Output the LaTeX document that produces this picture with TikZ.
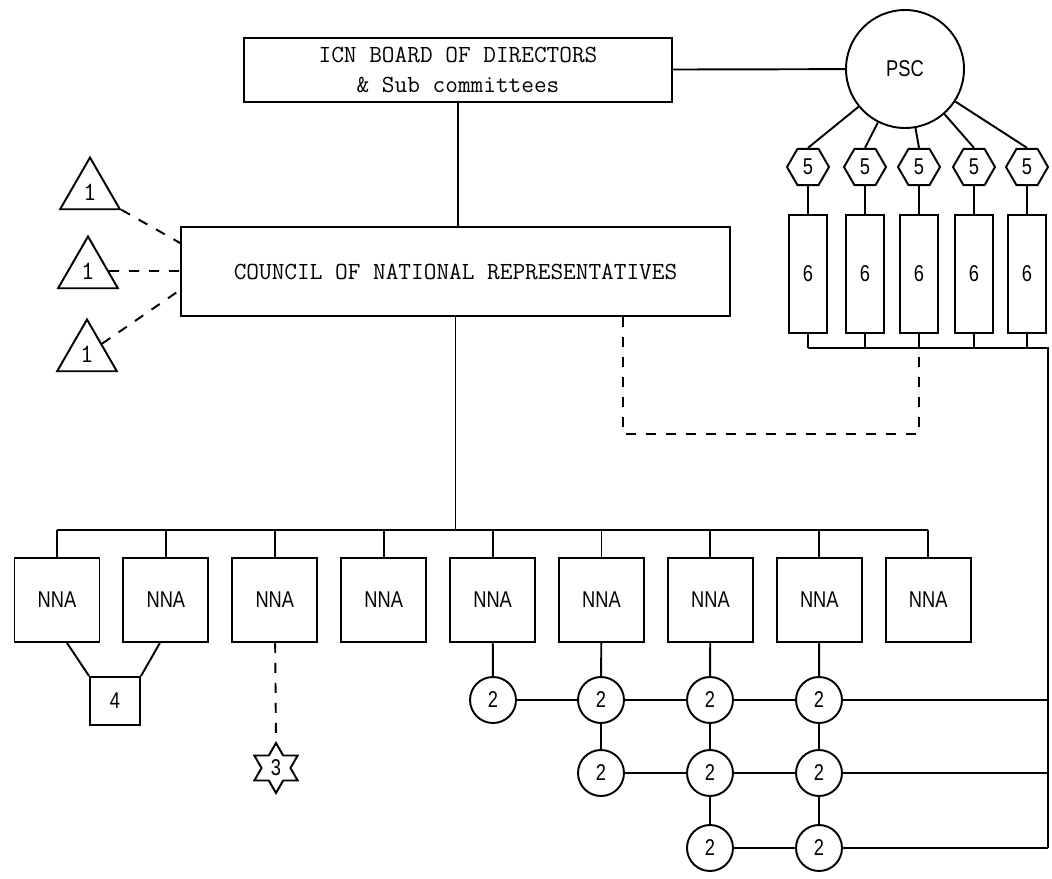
\documentclass[tikz,border=0pt]{standalone}
\usepackage{fontspec}
\setsansfont{Liberation Sans}[FakeStretch=0.8]
\usetikzlibrary{shapes.geometric}
\begin{document}
\begin{tikzpicture}[x=0.02cm,y=-0.02cm]

% définition des styles
\tikzstyle{trait}=[-,line width=1.1pt]
\tikzstyle{pointille}=[dash pattern=on 0.2cm off 0.2cm,line width=1.1pt]
\tikzstyle{boite}=[rectangle,draw,line width=1.1pt,inner sep=0pt,font=\sffamily\fontsize{13}{15}\selectfont]
\tikzstyle{machine}=[rectangle,draw,line width=1.1pt,inner sep=0pt,align=center,font=\ttfamily\fontsize{14}{17}\selectfont]
\tikzstyle{cercle}=[circle,draw,line width=1.1pt,inner sep=0pt,minimum size=0.92cm,font=\sffamily\fontsize{13}{15}\selectfont]
\tikzstyle{hexa}=[regular polygon,regular polygon sides=6,draw,line width=1.1pt,inner sep=0pt,minimum size=0.84cm,font=\sffamily\fontsize{13}{15}\selectfont]
\tikzstyle{triang}=[regular polygon,regular polygon sides=3,draw,line width=1.1pt,inner sep=0pt,minimum size=1.38cm,font=\ttfamily\fontsize{15}{17}\selectfont]
\tikzstyle{etoile}=[star,star points=6,star point ratio=1.73,draw,line width=1.1pt,inner sep=0pt,minimum size=1cm,font=\sffamily\fontsize{13}{15}\selectfont]

\useasboundingbox (0,0) rectangle (1052,879);

% le conseil et le bureau
\node [machine,minimum width=8.56cm,minimum height=1.28cm] (cad) at (458,70) {ICN BOARD OF DIRECTORS\\\& Sub committees};
\node [cercle,minimum size=2.36cm] (psc) at (905,69) {PSC};
\node [machine,minimum width=10.98cm,minimum height=1.78cm] (cnr) at (455.5,271.5) {COUNCIL OF NATIONAL REPRESENTATIVES};
\coordinate (bus) at (1048,348);
\coordinate (bn) at (0,530);

% les comités
\foreach \x/\n in {808/1,865/2,919/3,974/4,1027/5}{
  \node [hexa] (h\n) at (\x,167) {5};
  \node [boite,minimum width=0.76cm,minimum height=2.36cm] (r\n) at (\x,274) {6};
}

% les triangles
\node [triang] (t1) at (90,192) {1};
\node [triang] (t2) at (88,271) {1};
\node [triang] (t3) at (87,354) {1};

% les NNA
\foreach \n in {1,...,9}
  \node [boite,minimum width=1.7cm,minimum height=1.68cm] (n\n) at ({57+108.9*(\n-1)},600) {NNA};
\node [boite,minimum width=1cm,minimum height=0.96cm] (q) at (115,701) {4};
\node [etoile] (et) at (276,768) {3};

% les cercles
\node [cercle] (a1) at (493,700) {2};
\node [cercle] (a2) at (601,700) {2};
\node [cercle] (a3) at (710,700) {2};
\node [cercle] (a4) at (819,700) {2};
\node [cercle] (b2) at (601,773) {2};
\node [cercle] (b3) at (710,773) {2};
\node [cercle] (b4) at (819,773) {2};
\node [cercle] (c3) at (710,848) {2};
\node [cercle] (c4) at (819,848) {2};

% les liaisons
\draw[trait] (cad) -- (psc);
\draw[trait] (cad.south) -- (cad.south |- cnr.north);
\foreach \n in {1,...,5}{
  \draw[trait] (psc) -- (h\n.north);
  \draw[trait] (h\n) -- (r\n);
  \draw[trait] (r\n) -- (r\n.south |- bus);
}
\draw[trait] (r1.south |- bus) -- (bus) -- (bus |- c4);
\draw[pointille] ([xshift=3.35cm]cnr.south) -- ++(0,117) -| (r3.south |- bus);

\draw[pointille] (t1) -- ([yshift=0.57cm]cnr.west);
\draw[pointille] (t2) -- (t2 -| cnr.west);
\draw[pointille] (t3) -- ([yshift=-0.37cm]cnr.west);

\draw[trait] (cnr) -- (cnr |- bn);
\draw[trait] (n1 |- bn) -- (n9 |- bn);
\foreach \n in {1,...,9}
  \draw[trait] (n\n |- bn) -- (n\n);
\draw[trait] ([xshift=0.2cm]n1.south) -- (q.north west);
\draw[trait] ([xshift=-0.12cm]n2.south) -- (q.north east);
\draw[pointille] (n3) -- (et.north);

\draw[trait] (n5) -- (a1);
\draw[trait] (n6) -- (a2);
\draw[trait] (n7) -- (a3);
\draw[trait] (n8) -- (a4);
\draw[trait] (a1) -- (a2) -- (a3) -- (a4) -- (a4 -| bus);
\draw[trait] (b2) -- (b3) -- (b4) -- (b4 -| bus);
\draw[trait] (c3) -- (c4) -- (c4 -| bus);
\draw[trait] (a2) -- (b2);
\draw[trait] (a3) -- (b3) -- (c3);
\draw[trait] (a4) -- (b4) -- (c4);

\end{tikzpicture}
\end{document}
